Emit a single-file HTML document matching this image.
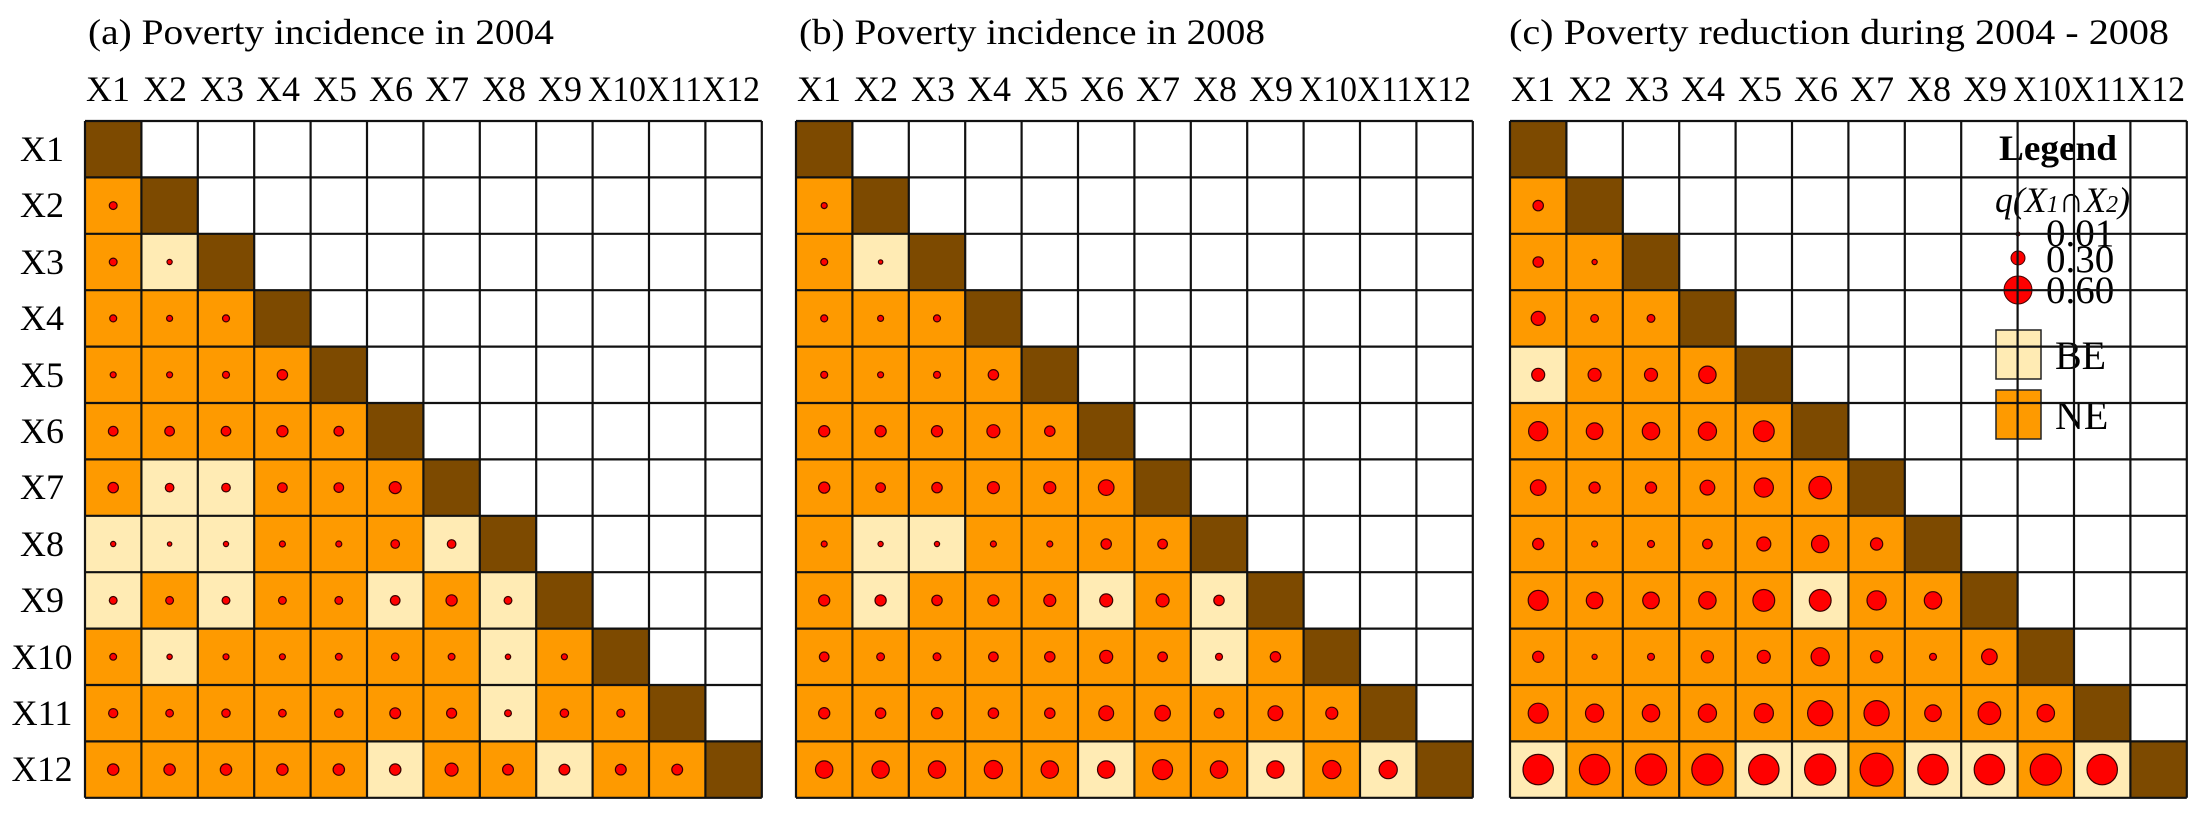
<!DOCTYPE html>
<html><head><meta charset="utf-8"><style>
html,body{margin:0;padding:0;background:#fff;}
svg{display:block;font-family:"Liberation Serif",serif;}
</style></head><body>
<svg id="s" width="2205" height="820" viewBox="0 0 2205 820" xmlns="http://www.w3.org/2000/svg">
<g id="cells"></g>
<g id="legend">
<text x="2058" y="160" font-size="36" font-weight="bold" text-anchor="middle" textLength="118" lengthAdjust="spacingAndGlyphs">Legend</text>
<text x="1995" y="212" font-size="36" font-style="italic" textLength="135" lengthAdjust="spacingAndGlyphs">q(X<tspan font-size="24">1</tspan>∩X<tspan font-size="24">2</tspan>)</text>
<circle cx="2018" cy="234" r="2" fill="#f00" stroke="#400" stroke-width="1"/>
<circle cx="2018" cy="258" r="7" fill="#f00" stroke="#400" stroke-width="1"/>
<circle cx="2018" cy="290" r="14" fill="#f00" stroke="#400" stroke-width="1"/>
<text x="2046" y="246" font-size="39">0.01</text>
<text x="2046" y="272" font-size="39">0.30</text>
<text x="2046" y="303" font-size="39">0.60</text>
<rect x="1996" y="330" width="45" height="49" fill="#FFEBB4" stroke="#222" stroke-width="1.5"/>
<rect x="1996" y="390" width="45" height="49" fill="#FE9A00" stroke="#222" stroke-width="1.5"/>
<text x="2055" y="369" font-size="40">BE</text>
<text x="2055" y="429" font-size="40">NE</text>
</g>
<g id="grid"></g>
<g font-size="36" fill="#000">
<text x="88" y="44" textLength="466" lengthAdjust="spacingAndGlyphs">(a) Poverty incidence in 2004</text>
<text x="799" y="44" textLength="466" lengthAdjust="spacingAndGlyphs">(b) Poverty incidence in 2008</text>
<text x="1509" y="44" textLength="660" lengthAdjust="spacingAndGlyphs">(c) Poverty reduction during 2004 - 2008</text>
</g>
<g font-size="36" text-anchor="middle">
<text x="42" y="161">X1</text><text x="42" y="217">X2</text><text x="42" y="274">X3</text><text x="42" y="330">X4</text>
<text x="42" y="387">X5</text><text x="42" y="443">X6</text><text x="42" y="499">X7</text><text x="42" y="556">X8</text>
<text x="42" y="612">X9</text><text x="42" y="669" textLength="61" lengthAdjust="spacingAndGlyphs">X10</text><text x="42" y="725" textLength="61" lengthAdjust="spacingAndGlyphs">X11</text><text x="42" y="781" textLength="61" lengthAdjust="spacingAndGlyphs">X12</text>
</g>
<g id="collabs" font-size="36" text-anchor="middle">
<text x="108" y="101">X1</text><text x="165" y="101">X2</text><text x="222" y="101">X3</text><text x="278" y="101">X4</text><text x="335" y="101">X5</text><text x="391" y="101">X6</text><text x="447" y="101">X7</text><text x="504" y="101">X8</text><text x="560" y="101">X9</text><text x="617" y="101" textLength="58" lengthAdjust="spacingAndGlyphs">X10</text><text x="674" y="101" textLength="56" lengthAdjust="spacingAndGlyphs">X11</text><text x="731" y="101" textLength="58" lengthAdjust="spacingAndGlyphs">X12</text>
<text x="819" y="101">X1</text><text x="876" y="101">X2</text><text x="933" y="101">X3</text><text x="989" y="101">X4</text><text x="1046" y="101">X5</text><text x="1102" y="101">X6</text><text x="1158" y="101">X7</text><text x="1215" y="101">X8</text><text x="1271" y="101">X9</text><text x="1328" y="101" textLength="58" lengthAdjust="spacingAndGlyphs">X10</text><text x="1385" y="101" textLength="56" lengthAdjust="spacingAndGlyphs">X11</text><text x="1442" y="101" textLength="58" lengthAdjust="spacingAndGlyphs">X12</text>
<text x="1533" y="101">X1</text><text x="1590" y="101">X2</text><text x="1647" y="101">X3</text><text x="1703" y="101">X4</text><text x="1760" y="101">X5</text><text x="1816" y="101">X6</text><text x="1872" y="101">X7</text><text x="1929" y="101">X8</text><text x="1985" y="101">X9</text><text x="2042" y="101" textLength="58" lengthAdjust="spacingAndGlyphs">X10</text><text x="2099" y="101" textLength="56" lengthAdjust="spacingAndGlyphs">X11</text><text x="2156" y="101" textLength="58" lengthAdjust="spacingAndGlyphs">X12</text>
</g>
</svg>
<script>
(function(){
var NS="http://www.w3.org/2000/svg";
var C=56.4,TOP=121,lefts=[85,796,1510];
var BE=[
 [[3,2],[7,2],[7,3],[8,1],[8,2],[8,3],[8,7],[9,1],[9,3],[9,6],[9,8],[10,2],[10,8],[11,8],[12,6],[12,9]],
 [[3,2],[8,2],[8,3],[9,2],[9,6],[9,8],[10,8],[12,6],[12,9],[12,11]],
 [[5,1],[9,6],[12,1],[12,5],[12,6],[12,8],[12,9],[12,11]]
];
var R=[
[[3.9],[3.9,2.6],[3.5,3,3.5],[3,3,3.5,5.2],[4.8,4.8,4.8,5.6,4.8],[5.2,4.3,4.3,4.8,4.8,6],[2.6,2.2,2.6,3,3,4.3,4.3],[3.9,3.9,3.9,3.9,3.9,4.8,5.6,3.9],[3.4,2.7,3,3,3.4,3.8,3.4,2.7,3],[4.6,3.8,4.2,3.8,4.2,5.4,5,3.4,4.2,4],[5.7,5.7,5.7,5.7,5.7,5.7,6.5,5.4,5.4,5.4,5.4]],
[[3],[3.5,2.2],[3.5,3,3.5],[3.5,3,3.5,5.2],[5.6,5.6,5.6,6.5,5.2],[5.6,4.8,5.2,6,6,7.8],[3,2.6,2.6,3,3,5.2,4.8],[5.6,5.6,5.2,5.6,6,6.5,6.5,5.2],[4.8,3.9,3.9,4.8,5.2,6.5,4.8,3.5,5.2],[5.6,5.2,5.6,5.2,5.2,7.4,7.8,4.8,7.4,6],[8.7,8.7,8.7,9.1,8.7,8.7,10,8.7,8.7,9.1,9.1]],
[[5.2],[5.2,2.6],[7,3.9,3.9],[6.5,6.5,6.5,8.7],[9.6,8.3,8.7,9.1,10.4],[7.8,5.6,5.6,7.4,9.6,11.3],[5.6,3,3.5,4.8,7,8.7,6.1],[10,8.3,8.3,8.7,10.9,10.9,9.6,8.7],[5.6,2.6,3.5,6.1,6.5,9.1,6.1,3.5,7.8],[10,9.1,8.7,9.1,9.6,12.6,12.6,8.3,11.3,8.7],[15.2,15.2,15.6,15.6,15.2,15.6,16.5,15.2,15.2,15.6,15.2]]
];
var cells=document.getElementById("cells"),grid=document.getElementById("grid");
function el(p,n,a){var e=document.createElementNS(NS,n);for(var k in a)e.setAttribute(k,a[k]);p.appendChild(e);return e;}
for(var p=0;p<3;p++){
 var L=lefts[p];
 el(cells,"rect",{x:L,y:TOP,width:12*C,height:12*C,fill:"#fff"});
 var be={};BE[p].forEach(function(q){be[q[0]+"_"+q[1]]=1;});
 for(var i=1;i<=12;i++){
  for(var j=1;j<=i;j++){
   var x=L+(j-1)*C,y=TOP+(i-1)*C;
   var f=(i==j)?"#7D4A00":(be[i+"_"+j]?"#FFEBB4":"#FE9A00");
   el(cells,"rect",{x:x,y:y,width:C,height:C,fill:f});
   if(i!=j){el(cells,"circle",{cx:x+C/2,cy:y+C/2,r:R[p][i-2][j-1],fill:"#FF0000",stroke:"#3a0000","stroke-width":1.2});}
  }
 }
 for(var k=0;k<=12;k++){
  el(grid,"line",{x1:L+k*C,y1:TOP,x2:L+k*C,y2:TOP+12*C,stroke:"#111","stroke-width":2.2});
  el(grid,"line",{x1:L,y1:TOP+k*C,x2:L+12*C,y2:TOP+k*C,stroke:"#111","stroke-width":2.2});
 }
}
})();
</script>
</body></html>
